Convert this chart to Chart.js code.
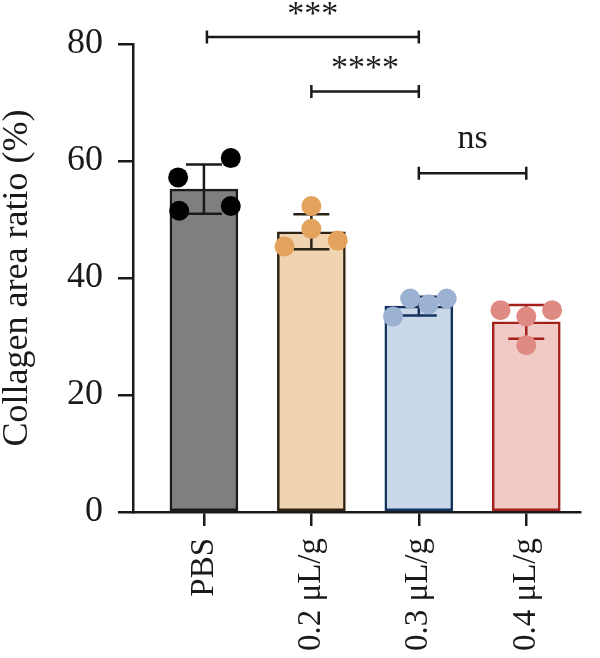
<!DOCTYPE html>
<html>
<head>
<meta charset="utf-8">
<script src="https://cdn.jsdelivr.net/npm/chart.js@4.4.1/dist/chart.umd.min.js"></script>
<style>
  html, body { margin: 0; padding: 0; background: #fff; }
</style>
</head>
<body>
<canvas id="grafico-colageno" width="600" height="658"></canvas>
<script>
// ✅ Datos
const grupos = ['PBS', '0.2 μL/g', '0.3 μL/g', '0.4 μL/g'];
const medias = [55.2, 47.9, 35.2, 32.5];
const desviaciones = [4.2, 3.0, 1.6, 2.9];

const puntosPBS = [57.2, 60.5, 51.5, 52.3];
const puntos02 = [52.3, 48.4, 45.4, 46.4];
const puntos03 = [36.5, 35.5, 36.5, 33.4];
const puntos04 = [34.5, 33.4, 34.5, 28.5];

// desplazamiento horizontal de cada punto (en unidades de categoría)
const jitterPBS = [-0.24, 0.25, -0.23, 0.25];
const jitter02 = [0, 0, -0.25, 0.245];
const jitter03 = [-0.08, 0.09, 0.26, -0.24];
const jitter04 = [-0.24, 0, 0.24, 0];

const ticksY = [0, 20, 40, 60, 80];

// comparaciones estadísticas
const compDesde = [0, 1, 2];
const compHasta = [2, 2, 3];
const compNivel = [81.2, 71.9, 57.9];
const compTexto = ['***', '****', 'ns'];

const colorRelleno = ['#7f7f7f', '#f0d3b1', '#cbd8e9', '#f1c9c5'];
const colorBorde = ['#1a1a1a', '#2b2214', '#15325e', '#a3201d'];
const colorPunto = ['#000000', '#e3a35c', '#9cb2d2', '#e08a84'];

const fuente = "'Liberation Serif', 'Times New Roman', serif";

const todosPuntos = [puntosPBS, puntos02, puntos03, puntos04];
const todosJitter = [jitterPBS, jitter02, jitter03, jitter04];

// ✅ Plugin para barras de error y corchetes de significancia
const pluginExtras = {
    id: 'extras',
    afterDatasetDraw(chart, args) {
        if (args.index !== 0) return;
        const { ctx, scales: { x, y } } = chart;
        ctx.save();
        ctx.lineWidth = 2.5;
        medias.forEach((m, i) => {
            const cx = x.getPixelForValue(i);
            const yArriba = y.getPixelForValue(m + desviaciones[i]);
            const yAbajo = y.getPixelForValue(m - desviaciones[i]);
            ctx.strokeStyle = colorBorde[i];
            ctx.beginPath();
            ctx.moveTo(cx, yArriba); ctx.lineTo(cx, yAbajo);
            ctx.moveTo(cx - 18, yArriba); ctx.lineTo(cx + 18, yArriba);
            ctx.moveTo(cx - 18, yAbajo); ctx.lineTo(cx + 18, yAbajo);
            ctx.stroke();
        });
        ctx.restore();
    },
    afterDraw(chart) {
        const { ctx, scales: { x, y } } = chart;
        ctx.save();
        ctx.strokeStyle = '#1a1a1a';
        ctx.fillStyle = '#1a1a1a';
        ctx.lineWidth = 2.5;
        ctx.textAlign = 'center';
        ctx.font = '34px ' + fuente;
        compTexto.forEach((t, i) => {
            const x1 = x.getPixelForValue(compDesde[i]) + (compDesde[i] === 0 ? 3 : 0);
            const x2 = x.getPixelForValue(compHasta[i]);
            const yl = y.getPixelForValue(compNivel[i]);
            ctx.beginPath();
            ctx.moveTo(x1, yl); ctx.lineTo(x2, yl);
            ctx.moveTo(x1, yl - 6.5); ctx.lineTo(x1, yl + 6.5);
            ctx.moveTo(x2, yl - 6.5); ctx.lineTo(x2, yl + 6.5);
            ctx.stroke();
            const esEstrella = t.indexOf('*') >= 0;
            ctx.textBaseline = 'alphabetic';
            ctx.fillText(t, (x1 + x2) / 2, esEstrella ? yl - 13 : yl - 25);
        });
        ctx.restore();
    }
};

const datasetsPuntos = todosPuntos.map((vals, g) => ({
    type: 'scatter',
    data: vals.map((v, i) => ({ x: g + todosJitter[g][i], y: v })),
    backgroundColor: colorPunto[g],
    borderWidth: 0,
    pointRadius: 10,
    pointHoverRadius: 10,
    order: 1
}));

const ctx = document.getElementById('grafico-colageno').getContext('2d');

new Chart(ctx, {
    type: 'bar',
    data: {
        datasets: [{
            data: medias.map((m, i) => ({ x: i, y: m })),
            backgroundColor: colorRelleno,
            borderColor: colorBorde,
            borderWidth: 2.5,
            borderSkipped: false,
            barThickness: 68,
            order: 3
        }, ...datasetsPuntos]
    },
    options: {
        responsive: false,
        animation: false,
        layout: { padding: { top: 44, right: 20, left: 0, bottom: 0 } },
        plugins: {
            legend: { display: false },
            tooltip: { enabled: false }
        },
        scales: {
            x: {
                type: 'linear',
                min: -0.66,
                max: 3.5,
                offset: false,
                afterBuildTicks: s => { s.ticks = grupos.map((g, i) => ({ value: i })); },
                afterFit: s => { s.height = 146; },
                ticks: {
                    callback: v => grupos[v],
                    minRotation: 90,
                    maxRotation: 90,
                    autoSkip: false,
                    padding: 12,
                    color: '#1a1a1a',
                    font: { family: fuente, size: 33 }
                },
                grid: {
                    display: true,
                    offset: false,
                    drawOnChartArea: false,
                    drawTicks: true,
                    tickLength: 14,
                    lineWidth: 2.5,
                    color: '#1a1a1a'
                },
                border: { display: true, color: '#1a1a1a', width: 2.5 }
            },
            y: {
                min: 0,
                max: 80,
                afterBuildTicks: s => { s.ticks = ticksY.map(v => ({ value: v })); },
                afterFit: s => { s.width = 133; },
                ticks: {
                    padding: 15,
                    color: '#1a1a1a',
                    font: { family: fuente, size: 36 }
                },
                title: {
                    display: true,
                    text: 'Collagen area ratio (%)',
                    color: '#1a1a1a',
                    padding: 0,
                    font: { family: fuente, size: 36, lineHeight: 0.95 }
                },
                grid: {
                    display: true,
                    drawOnChartArea: false,
                    drawTicks: true,
                    tickLength: 15,
                    lineWidth: 2.5,
                    color: '#1a1a1a'
                },
                border: { display: true, color: '#1a1a1a', width: 2.5 }
            }
        }
    },
    plugins: [pluginExtras]
});
</script>
</body>
</html>
